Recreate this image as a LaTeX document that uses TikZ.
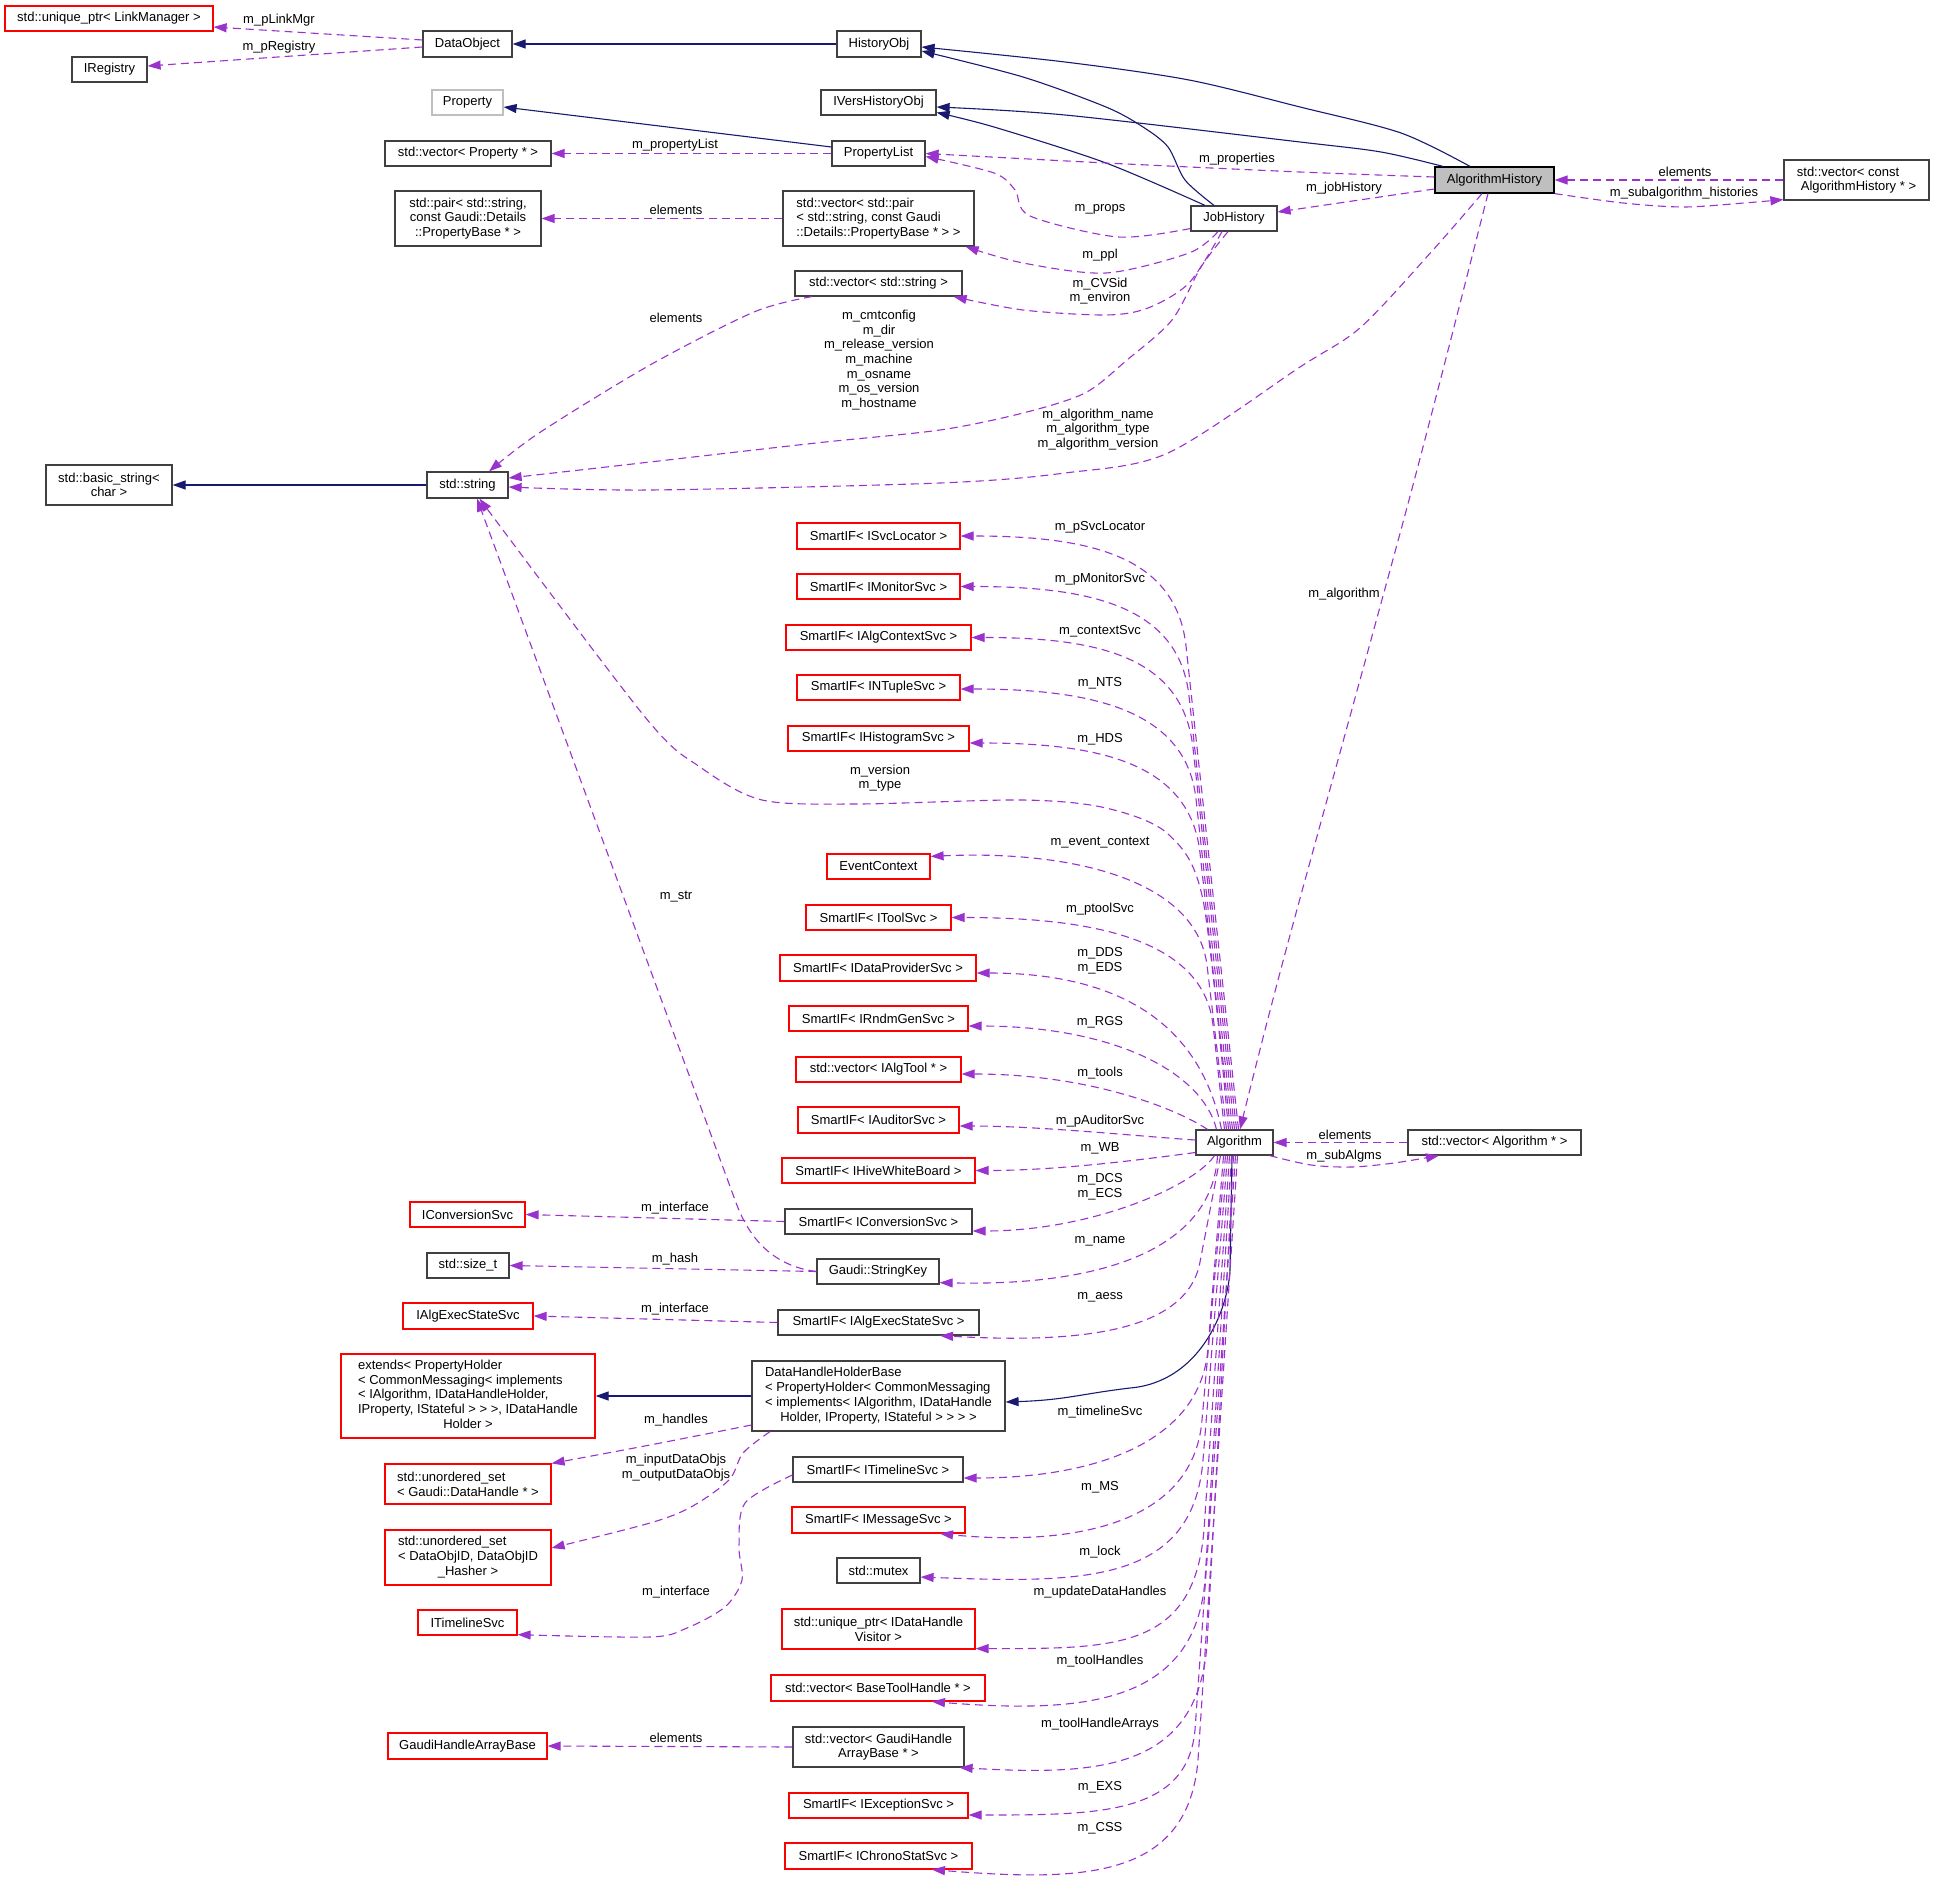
\documentclass[tikz,border=0pt]{standalone}
\usepackage{fontspec}
\setmainfont{Liberation Sans}
\usetikzlibrary{arrows.meta,calc}
\definecolor{purp}{HTML}{9A32CD}
\definecolor{navy}{HTML}{191970}
\definecolor{boxgray}{HTML}{404040}
\definecolor{lgray}{HTML}{BFBFBF}
\newcommand\lbl{\fontsize{13}{14.7}\selectfont}
\newcommand\cl[1]{\multicolumn{1}{@{}c@{}}{#1}}
\tikzset{
  nbox/.style={draw=boxgray, line width=1.2pt, fill=white, inner sep=0pt, font=\lbl, align=center},
  rbox/.style={nbox, draw=red},
  inh/.style={draw=navy, line width=1.1pt, -{Triangle[length=13pt,width=9pt]}},
  assoc/.style={draw=purp, line width=1.1pt, dash pattern=on 8pt off 5pt, -{Triangle[length=13pt,width=9pt]}},
  lab/.style={font=\lbl, inner sep=0pt, align=center},
}
\begin{document}
\begin{tikzpicture}[x=1pt,y=-1pt]
\path[fill=white] (0,0) rectangle (1933,1889);
\useasboundingbox (0,0) rectangle (1933,1889);

% ---------- column 0
\node[rbox, minimum width=208pt, minimum height=25pt] (lm) at (109,18.5) {std::unique\_ptr< LinkManager >};
\node[nbox, minimum width=75pt, minimum height=25pt] (ireg) at (109.5,69.5) {IRegistry};
\node[nbox, minimum width=126pt, minimum height=40pt] (bstr) at (109,485) {std::basic\_string<\\char >};

% ---------- column 1
\node[nbox, minimum width=89pt, minimum height=26pt] (dobj) at (467.5,44) {DataObject};
\node[nbox, draw=lgray, minimum width=71pt, minimum height=25pt] (prop) at (467.5,102.5) {Property};
\node[nbox, minimum width=166pt, minimum height=25pt] (vprop) at (468,153.5) {std::vector< Property * >};
\node[nbox, minimum width=146pt, minimum height=55pt] (spair) at (468,218.5) {std::pair< std::string,\\const Gaudi::Details\\::PropertyBase * >};
\node[nbox, minimum width=81pt, minimum height=26pt] (str) at (467.5,485) {std::string};
\node[rbox, minimum width=115pt, minimum height=25pt] (iconv) at (467.5,1214.5) {IConversionSvc};
\node[nbox, minimum width=82pt, minimum height=25pt] (sizet) at (468,1265.5) {std::size\_t};
\node[rbox, minimum width=130pt, minimum height=26pt] (iaess) at (468,1316) {IAlgExecStateSvc};
\node[rbox, minimum width=254pt, minimum height=84pt] (ext) at (468,1396) {\begin{tabular}{@{}l@{}}extends< PropertyHolder\\< CommonMessaging< implements\\< IAlgorithm, IDataHandleHolder,\\\cl{IProperty, IStateful > > >, IDataHandle}\\\cl{Holder >}\end{tabular}};
\node[rbox, minimum width=166pt, minimum height=40pt, align=left] (usdh) at (468,1484) {std::unordered\_set\\< Gaudi::DataHandle * >};
\node[rbox, minimum width=166pt, minimum height=55pt] (usdo) at (468,1557.5) {\begin{tabular}{@{}l@{}}std::unordered\_set\\< DataObjID, DataObjID\\\cl{\_Hasher >}\end{tabular}};
\node[rbox, minimum width=99pt, minimum height=25pt] (itl) at (467.5,1622.5) {ITimelineSvc};
\node[rbox, minimum width=159pt, minimum height=26pt] (gha) at (467.5,1746) {GaudiHandleArrayBase};

% ---------- column 2
\node[nbox, minimum width=84pt, minimum height=26pt] (hobj) at (879,44) {HistoryObj};
\node[nbox, minimum width=115pt, minimum height=25pt] (ivho) at (878.5,102.5) {IVersHistoryObj};
\node[nbox, minimum width=93pt, minimum height=25pt] (plist) at (878.5,153.5) {PropertyList};
\node[nbox, minimum width=191pt, minimum height=55pt, align=left] (vpair) at (878.5,218.5) {std::vector< std::pair\\< std::string, const Gaudi\\::Details::PropertyBase * > >};
\node[nbox, minimum width=167pt, minimum height=25pt] (vstr) at (878.5,283.5) {std::vector< std::string >};
\node[rbox, minimum width=163pt, minimum height=26pt] (svcloc) at (878.5,536) {SmartIF< ISvcLocator >};
\node[rbox, minimum width=163pt, minimum height=25pt] (monsvc) at (878.5,586.5) {SmartIF< IMonitorSvc >};
\node[rbox, minimum width=185pt, minimum height=25pt] (ctxsvc) at (878.5,637.5) {SmartIF< IAlgContextSvc >};
\node[rbox, minimum width=163pt, minimum height=25pt] (ntsvc) at (878.5,687.5) {SmartIF< INTupleSvc >};
\node[rbox, minimum width=181pt, minimum height=25pt] (histsvc) at (878.5,738.5) {SmartIF< IHistogramSvc >};
\node[rbox, minimum width=103pt, minimum height=25pt] (evctx) at (878.5,866.5) {EventContext};
\node[rbox, minimum width=145pt, minimum height=25pt] (toolsvc) at (878.5,917.5) {SmartIF< IToolSvc >};
\node[rbox, minimum width=196pt, minimum height=26pt] (dpsvc) at (878,968) {SmartIF< IDataProviderSvc >};
\node[rbox, minimum width=179pt, minimum height=25pt] (rndm) at (878.5,1018.5) {SmartIF< IRndmGenSvc >};
\node[rbox, minimum width=165pt, minimum height=25pt] (algtool) at (878.5,1069.5) {std::vector< IAlgTool * >};
\node[rbox, minimum width=161pt, minimum height=26pt] (audsvc) at (878.5,1120) {SmartIF< IAuditorSvc >};
\node[rbox, minimum width=193pt, minimum height=25pt] (hwb) at (878.5,1170.5) {SmartIF< IHiveWhiteBoard >};
\node[nbox, minimum width=187pt, minimum height=25pt] (convif) at (878.5,1221.5) {SmartIF< IConversionSvc >};
\node[nbox, minimum width=122pt, minimum height=25pt] (skey) at (878,1271.5) {Gaudi::StringKey};
\node[nbox, minimum width=201pt, minimum height=25pt] (aessif) at (878.5,1322.5) {SmartIF< IAlgExecStateSvc >};
\node[nbox, minimum width=253pt, minimum height=70pt] (dhhb) at (878.5,1396) {\begin{tabular}{@{}l@{}}DataHandleHolderBase\\< PropertyHolder< CommonMessaging\\< implements< IAlgorithm, IDataHandle\\\cl{Holder, IProperty, IStateful > > > >}\end{tabular}};
\node[nbox, minimum width=170pt, minimum height=25pt] (tlif) at (878,1469.5) {SmartIF< ITimelineSvc >};
\node[rbox, minimum width=173pt, minimum height=26pt] (msgsvc) at (878.5,1520) {SmartIF< IMessageSvc >};
\node[nbox, minimum width=83pt, minimum height=25pt] (mutex) at (878.5,1570.5) {std::mutex};
\node[rbox, minimum width=193pt, minimum height=40pt] (dhv) at (878.5,1629) {std::unique\_ptr< IDataHandle\\Visitor >};
\node[rbox, minimum width=214pt, minimum height=26pt] (btool) at (878,1688) {std::vector< BaseToolHandle * >};
\node[nbox, minimum width=171pt, minimum height=40pt] (gharr) at (878.5,1747) {std::vector< GaudiHandle\\ArrayBase * >};
\node[rbox, minimum width=179pt, minimum height=25pt] (excsvc) at (878.5,1805.5) {SmartIF< IExceptionSvc >};
\node[rbox, minimum width=187pt, minimum height=26pt] (chrono) at (878.5,1856) {SmartIF< IChronoStatSvc >};

% ---------- columns 3-5
\node[nbox, minimum width=86pt, minimum height=25pt] (jh) at (1234,218.5) {JobHistory};
\node[nbox, minimum width=77pt, minimum height=25pt] (alg) at (1234.5,1142.5) {Algorithm};
\node[nbox, fill=lgray, draw=black, minimum width=119pt, minimum height=26pt] (ah) at (1494.5,180) {AlgorithmHistory};
\node[nbox, minimum width=173pt, minimum height=25pt] (valg) at (1494.5,1142.5) {std::vector< Algorithm * >};
\node[nbox, minimum width=145pt, minimum height=40pt, align=left] (vah) at (1856.5,180) {std::vector< const\\\hspace*{4pt}AlgorithmHistory * >};

% ---------- inheritance
\draw[inh] (hobj.west) -- (dobj.east);
\draw[inh] plot[smooth] coordinates {([xshift=-24.5pt]ah.north) (1401,133) (1300,107) (1189,80) (1065,62) ([yshift=-3pt]hobj.east)};
\draw[inh] plot[smooth] coordinates {([xshift=-20pt]jh.north) (1185,180) (1168,147) (1143,127) (1106,107) (1023,77) ([yshift=-7pt]hobj.east)};
\draw[inh] plot[smooth] coordinates {([xshift=-51.5pt]ah.north) (1381,152) (1300,142) (1065,115) ([yshift=-4.5pt]ivho.east)};
\draw[inh] plot[smooth] coordinates {([xshift=-29pt]jh.north) (1106,163) (994,127) ([yshift=-10pt]ivho.east)};
\draw[inh] ([yshift=6.5pt]plist.west) -- ([yshift=-4.5pt]prop.east);
\draw[inh] (str.west) -- (bstr.east);
\draw[inh] ([xshift=-2.5pt]alg.south) -- (1230,1270) .. controls +(-2,40) and +(70,-6) .. (1130,1388) .. controls +(-50,6) and +(60,-2) .. ([yshift=-6pt]dhhb.east);
\draw[inh] (dhhb.west) -- (ext.east);

% ---------- associations (top)
\draw[assoc] ([yshift=4pt]dobj.west) -- ([yshift=-8.5pt]lm.east);
\draw[assoc] ([yshift=-3pt]dobj.west) -- ([yshift=3.5pt]ireg.east);
\draw[assoc] (plist.west) -- (vprop.east);
\draw[assoc] plot[smooth] coordinates {([yshift=3pt]ah.west) (1300,172) (1106,163) (plist.east)};
\draw[assoc] plot[smooth] coordinates {([yshift=-10pt]jh.west) (1118,237) (1030,216) (1015,190) (994,173) ([yshift=-3pt]plist.east)};
\draw[assoc] plot[smooth] coordinates {([xshift=-16pt]jh.south) (1189,253) (1106,273) (1023,263) ([xshift=-9pt]vpair.south east)};
\draw[assoc] plot[smooth] coordinates {([xshift=-12pt]jh.south) (1189,283) (1148,308) (1106,315) (1023,310) ([xshift=-9pt]vstr.south east)};
\draw[assoc] plot[smooth] coordinates {([xshift=-6pt]jh.south) (1201,267) (1172,320) (1127,360) (1085,393) (1023,413) (940,430) (816,443) (650,462) (580,470) ([yshift=7pt]str.east)};
\draw[assoc] plot[smooth] coordinates {([xshift=-12.5pt]ah.south) (1433,250) (1361,327) (1300,367) (1168,453) (1065,473) (940,483) (650,490) ([yshift=-2pt]str.east)};
\draw[assoc] plot[smooth] coordinates {([xshift=-66.5pt]vstr.south) (754,312) (650,365) (539,433) ([xshift=21.5pt]str.north)};
\draw[assoc] (vpair.west) -- (spair.east);
\draw[assoc] ([yshift=-9pt]ah.west) -- ([yshift=6.5pt]jh.east);
\draw[assoc] (vah.west) -- (ah.east);
\draw[assoc] plot[smooth] coordinates {(ah.south east) (1623,203) (1684,207) (1744,203) ([yshift=1pt]vah.south west)};
\draw[assoc] plot[smooth] coordinates {([xshift=-6.5pt]ah.south) (1409,500) (1286,950) ([xshift=5.5pt]alg.north)};

% ---------- Algorithm fan (up)
\draw[assoc] ([xshift=4pt]alg.north) -- (1186,646) .. controls +(-10,-90) and +(130,0) .. (svcloc.east);
\draw[assoc] ([xshift=2pt]alg.north) -- (1189,696) .. controls +(-10,-90) and +(130,0) .. (monsvc.east);
\draw[assoc] (alg.north) -- (1193,748) .. controls +(-10,-90) and +(130,0) .. (ctxsvc.east);
\draw[assoc] ([xshift=-2pt]alg.north) -- (1196,799) .. controls +(-10,-90) and +(130,0) .. ([yshift=-1.5pt]ntsvc.east);
\draw[assoc] ([xshift=-4pt]alg.north) -- (1200,853) .. controls +(-10,-90) and +(130,0) .. ([yshift=-4.5pt]histsvc.east);
\draw[assoc] plot[smooth] coordinates {([xshift=-6pt]alg.north) (1203,900) (1168,834) (1106,808) (1023,800) (857,804) (762,800) (700,767) (645,717) ([xshift=12pt]str.south)};
\draw[assoc] ([xshift=-8pt]alg.north) -- (1207,965) .. controls +(-12,-90) and +(130,-6) .. ([yshift=-3pt]evctx.north east);
\draw[assoc] ([xshift=-10pt]alg.north) -- (1213,1025) .. controls +(-10,-90) and +(130,0) .. (toolsvc.east);
\draw[assoc] ([xshift=-13pt]alg.north) .. controls +(-20,-100) and +(150,0) .. ([yshift=-5pt]dpsvc.east);
\draw[assoc] ([xshift=-18pt]alg.north) .. controls +(-15,-60) and +(140,0) .. ([yshift=-7.5pt]rndm.east);
\draw[assoc] ([xshift=-27pt]alg.north) .. controls +(-30,-20) and +(130,0) .. ([yshift=-4.5pt]algtool.east);
\draw[assoc] ([yshift=2.5pt]alg.west) .. controls +(-60,-4) and +(80,0) .. ([yshift=-6pt]audsvc.east);
\draw[assoc] ([yshift=-10pt]alg.west) .. controls +(-60,8) and +(80,0) .. (hwb.east);

% ---------- Algorithm fan (down)
\draw[assoc] ([xshift=-20pt]alg.south) .. controls +(-20,30) and +(120,0) .. ([yshift=-9.5pt]convif.east);
\draw[assoc] ([xshift=-17pt]alg.south) .. controls +(-5,90) and +(170,4) .. ([yshift=2pt]skey.south east);
\draw[assoc] ([xshift=-14pt]alg.south) -- (1200,1262) .. controls +(-13,70) and +(140,8) .. ([xshift=61.5pt]aessif.south);
\draw[assoc] ([xshift=-11pt]alg.south) -- (1208,1348) .. controls +(-7,95) and +(130,0) .. ([yshift=-8.5pt]tlif.east);
\draw[assoc] ([xshift=-9pt]alg.south) -- (1202,1420) .. controls +(-9,110) and +(120,12) .. ([xshift=61.5pt]msgsvc.south);
\draw[assoc] ([xshift=-7pt]alg.south) -- (1203,1460) .. controls +(-10,125) and +(160,6) .. ([yshift=-6.5pt]mutex.east);
\draw[assoc] ([xshift=-5pt]alg.south) -- (1204,1530) .. controls +(-10,120) and +(140,0) .. ([yshift=1pt]dhv.south east);
\draw[assoc] ([xshift=-3pt]alg.south) -- (1205,1580) .. controls +(-10,125) and +(150,12) .. ([xshift=54pt]btool.south);
\draw[assoc] ([xshift=-1pt]alg.south) -- (1207,1645) .. controls +(-10,125) and +(140,8) .. ([xshift=-5pt]gharr.south east);
\draw[assoc] ([xshift=1pt]alg.south) -- (1195,1730) .. controls +(-8,85) and +(130,0) .. ([yshift=-9.5pt]excsvc.east);
\draw[assoc] ([xshift=3pt]alg.south) -- (1198,1760) .. controls +(-10,120) and +(150,12) .. ([xshift=53.5pt]chrono.south);
\draw[assoc] plot[smooth] coordinates {([xshift=-4pt]alg.south east) (1311,1165) (1352,1167) (1394,1163) ([xshift=-55.5pt]valg.south)};
\draw[assoc] (valg.west) -- (alg.east);

% ---------- lower left
\draw[assoc] (convif.west) -- (iconv.east);
\draw[assoc] (skey.west) -- (sizet.east);
\draw[assoc] (aessif.west) -- (iaess.east);
\draw[assoc] (skey.west) .. controls (765,1265) and (745,1228) .. (735,1200) -- ([xshift=9.5pt]str.south);
\draw[assoc] plot[smooth] coordinates {([yshift=-29pt]dhhb.west) (650,1445) (usdh.north east)};
\draw[assoc] plot[smooth] coordinates {([xshift=-108.5pt]dhhb.south) (743,1453) (729,1480) (691,1507) (650,1523) ([yshift=9.5pt]usdo.east)};
\draw[assoc] plot[smooth] coordinates {([yshift=-5.5pt]tlif.west) (745,1503) (739,1547) (742,1580) (725,1607) (687,1628) (650,1637) ([yshift=1pt]itl.south east)};
\draw[assoc] (gharr.west) -- (gha.east);

% ---------- labels
\node[lab] (t1) at (279,20) {m\_pLinkMgr};
\node[lab] (t2) at (279,47) {m\_pRegistry};
\node[lab] (t3) at (675,145) {m\_propertyList};
\node[lab] (t4) at (676,210) {elements};
\node[lab] (t5) at (676,318) {elements};
\node[lab] (t6) at (1237,159) {m\_properties};
\node[lab] (t7) at (1100,209) {m\_props};
\node[lab] (t8) at (1100,255) {m\_ppl};
\node[lab] (t9) at (1100,291) {m\_CVSid\\m\_environ};
\node[lab] (t10) at (879,360) {m\_cmtconfig\\m\_dir\\m\_release\_version\\m\_machine\\m\_osname\\m\_os\_version\\m\_hostname};
\node[lab] (t11) at (1098,429.5) {m\_algorithm\_name\\m\_algorithm\_type\\m\_algorithm\_version};
\node[lab] (t12) at (1344,188) {m\_jobHistory};
\node[lab] (t13) at (1685,172) {elements};
\node[lab] (t14) at (1684,193) {m\_subalgorithm\_histories};
\node[lab] (t15) at (1344,594) {m\_algorithm};
\node[lab] (t16) at (1100,527) {m\_pSvcLocator};
\node[lab] (t17) at (1100,579) {m\_pMonitorSvc};
\node[lab] (t18) at (1100,631) {m\_contextSvc};
\node[lab] (t19) at (1100,683) {m\_NTS};
\node[lab] (t20) at (1100,739) {m\_HDS};
\node[lab] (t21) at (880,778) {m\_version\\m\_type};
\node[lab] (t22) at (1100,843) {m\_event\_context};
\node[lab] (t23) at (676,897) {m\_str};
\node[lab] (t24) at (1100,909) {m\_ptoolSvc};
\node[lab] (t25) at (1100,961) {m\_DDS\\m\_EDS};
\node[lab] (t26) at (1100,1022) {m\_RGS};
\node[lab] (t27) at (1100,1073) {m\_tools};
\node[lab] (t28) at (1100,1121) {m\_pAuditorSvc};
\node[lab] (t29) at (1100,1148) {m\_WB};
\node[lab] (t30) at (1345,1135) {elements};
\node[lab] (t31) at (1344,1156) {m\_subAlgms};
\node[lab] (t32) at (1100,1186.5) {m\_DCS\\m\_ECS};
\node[lab] (t33) at (675,1208) {m\_interface};
\node[lab] (t34) at (1100,1241) {m\_name};
\node[lab] (t35) at (675,1259) {m\_hash};
\node[lab] (t36) at (1100,1297) {m\_aess};
\node[lab] (t37) at (675,1309) {m\_interface};
\node[lab] (t38) at (676,1420) {m\_handles};
\node[lab] (t39) at (1100,1412) {m\_timelineSvc};
\node[lab] (t40) at (676,1467.5) {m\_inputDataObjs\\m\_outputDataObjs};
\node[lab] (t41) at (1100,1487) {m\_MS};
\node[lab] (t42) at (1100,1552) {m\_lock};
\node[lab] (t43) at (676,1592) {m\_interface};
\node[lab] (t44) at (1100,1592) {m\_updateDataHandles};
\node[lab] (t45) at (1100,1661) {m\_toolHandles};
\node[lab] (t46) at (1100,1724) {m\_toolHandleArrays};
\node[lab] (t47) at (676,1738) {elements};
\node[lab] (t48) at (1100,1787) {m\_EXS};
\node[lab] (t49) at (1100,1828) {m\_CSS};
\end{tikzpicture}
\end{document}
